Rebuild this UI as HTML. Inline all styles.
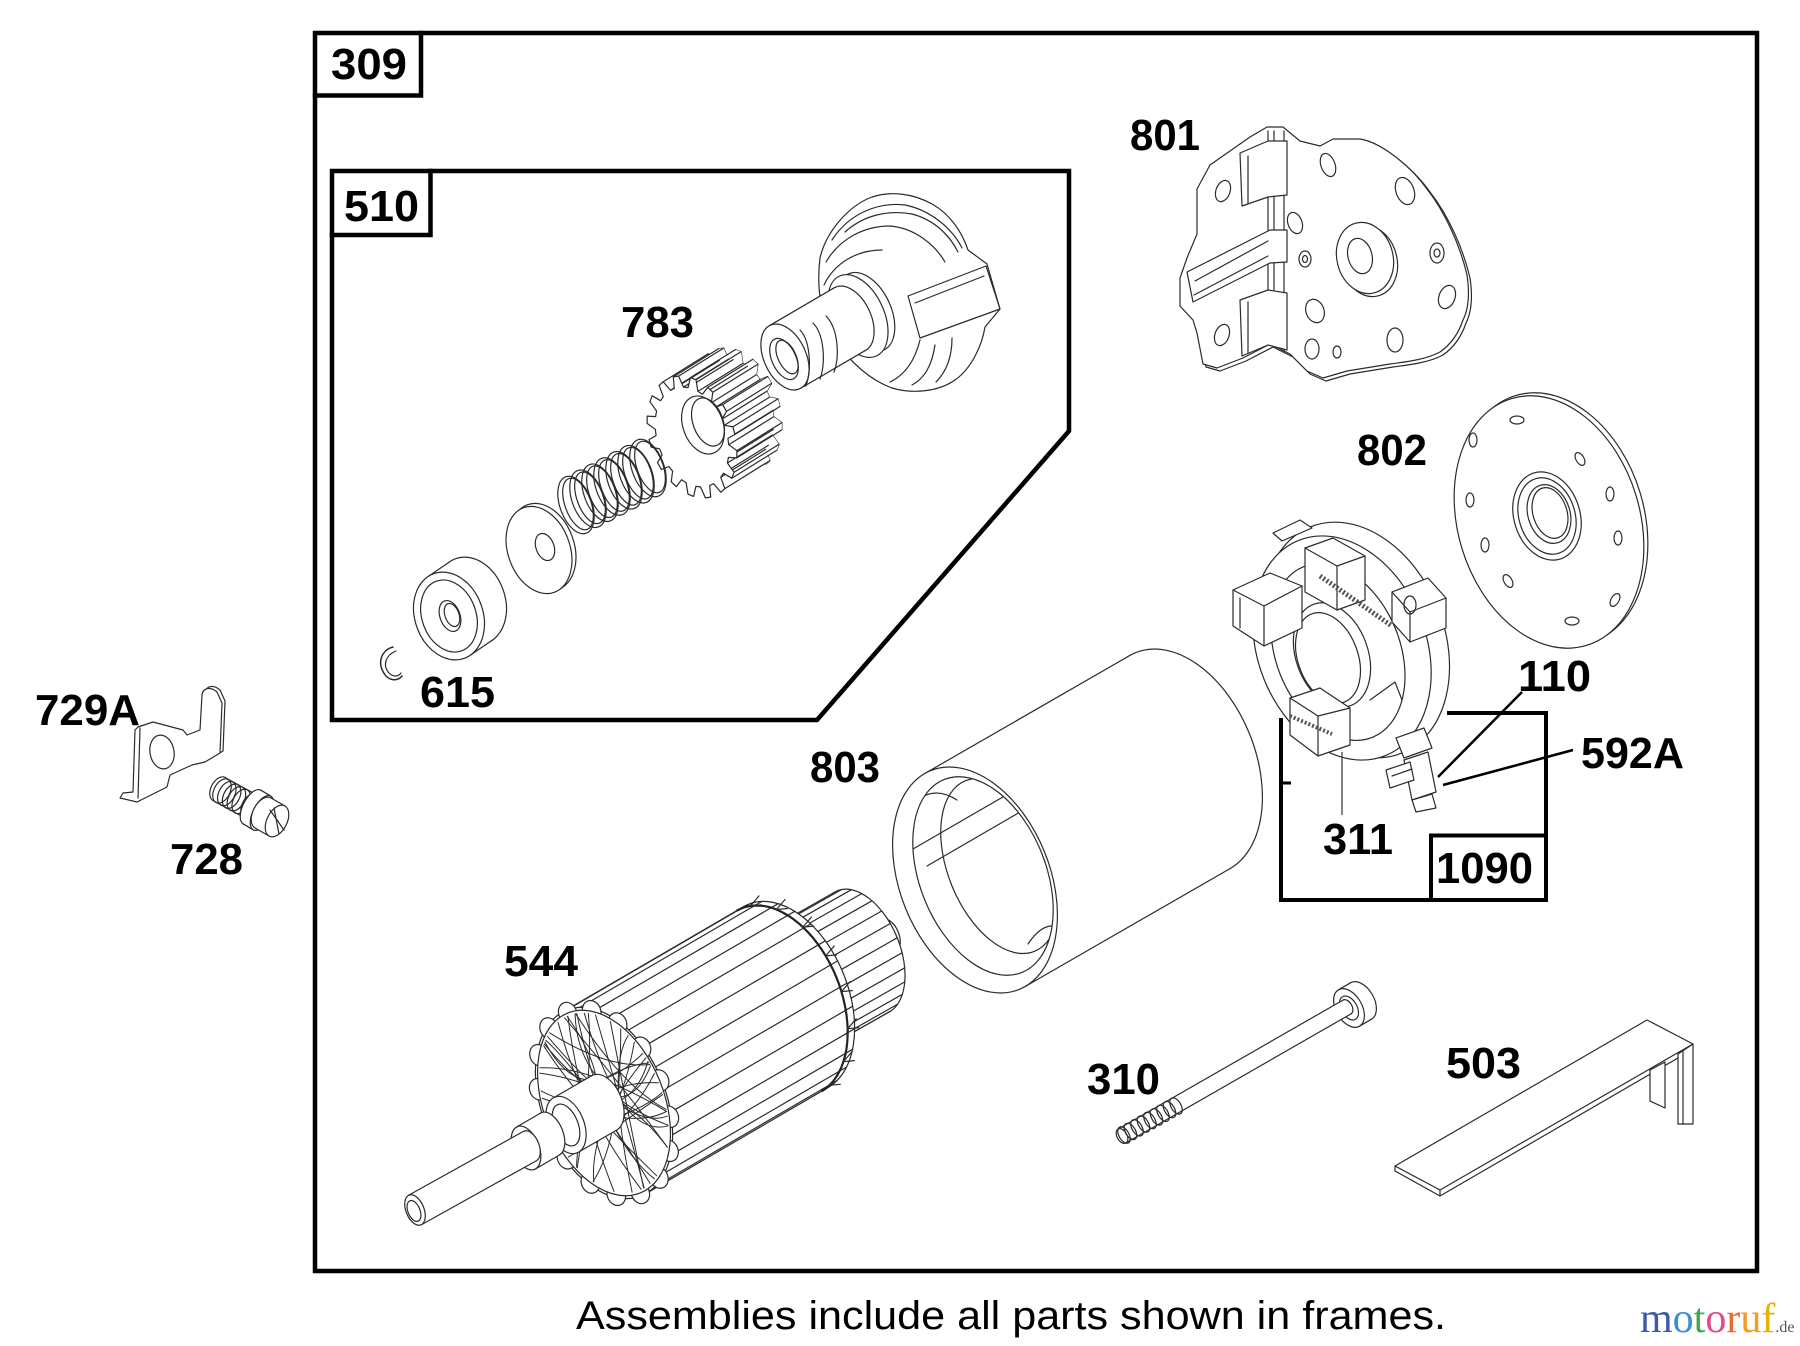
<!DOCTYPE html>
<html><head><meta charset="utf-8"><title>Starter motor parts diagram</title>
<style>
html,body{margin:0;padding:0;background:#fff;width:1800px;height:1346px;overflow:hidden}
svg{display:block}
.l{fill:none;stroke:#2b2b2b;stroke-width:1.2;stroke-linejoin:round;stroke-linecap:round}
.w{fill:#fff;stroke:#2b2b2b;stroke-width:1.2;stroke-linejoin:round}
.wf{fill:#fff;stroke:none}
.f{fill:none;stroke:#000;stroke-width:4.5;stroke-linejoin:miter;stroke-linecap:square}
.t{font-family:"Liberation Sans",Arial,sans-serif;font-weight:bold;font-size:44px;fill:#000}
</style></head><body>
<svg id="s" width="1800" height="1346" viewBox="0 0 1800 1346" xmlns="http://www.w3.org/2000/svg">
<defs>
<clipPath id="bore"><ellipse cx="983" cy="876" rx="63" ry="104" transform="rotate(-22 983 876)"/></clipPath>
</defs>

<!-- drive housing (510) -->
<g id="housing">
<path class="w" d="M820,258 C826,232 848,206 872,197 C890,191 912,193 932,204 C950,214 962,232 968,250 L987,264 L1000,309 L985,327 C982,345 972,368 955,380 C938,392 912,394 892,388 C870,380 850,362 835,340 C822,322 816,290 820,258 Z"/>
<path class="l" d="M832,240 C850,212 880,202 905,205 C930,210 952,228 962,248"/>
<path class="l" d="M845,232 C865,214 890,210 912,214 C935,220 950,236 958,252"/>
<path class="l" d="M826,262 C840,238 865,226 890,226 C915,228 935,245 945,262"/>
<path class="l" d="M824,285 C835,262 858,250 882,250"/>
<polyline class="l" points="908,296 986,266 1000,309 920,338 908,296"/>
<path class="l" d="M915,303 L984,276"/>
<path class="l" d="M920,340 C915,360 905,375 890,382"/>
<path class="l" d="M935,345 C932,365 925,378 912,385"/>
<path class="l" d="M952,338 C952,358 946,372 936,382"/>
<ellipse class="w" cx="866" cy="312" rx="25" ry="42" transform="rotate(-25 866 312)"/>
<ellipse class="w" cx="858" cy="316" rx="26" ry="44" transform="rotate(-25 858 316)"/>
</g>
<g id="tube"></g>
<g id="gear"></g>
<g id="spring"></g>
<g id="washer"></g>
<g id="collar"></g>
<path class="l" style="stroke-width:1.5" d="M393,647 C381,650 376,664 386,676 C391,681 398,681 402,676"/>
<path class="l" d="M396,651 C386,655 382,665 389,673 C393,677 398,677 401,673"/>

<!-- 801 plate -->
<g id="p801">
<path class="w" transform="translate(3,3)" d="M1197,189 L1210,165 L1250,137 L1267,127 L1283,127 L1300,141 L1320,146 L1333,139 L1360,139 C1380,142 1410,165 1427,189 C1445,212 1460,245 1467,275 C1470,295 1468,310 1463,320 C1458,335 1450,345 1440,352 C1425,360 1405,362 1390,364 L1347,371 L1323,378 L1307,371 L1290,354 L1270,344 L1243,358 L1217,368 L1203,364 L1197,333 L1193,320 L1180,306 L1180,278 L1187,258 L1197,234 Z"/>
<path class="w" d="M1197,189 L1210,165 L1250,137 L1267,127 L1283,127 L1300,141 L1320,146 L1333,139 L1360,139 C1380,142 1410,165 1427,189 C1445,212 1460,245 1467,275 C1470,295 1468,310 1463,320 C1458,335 1450,345 1440,352 C1425,360 1405,362 1390,364 L1347,371 L1323,378 L1307,371 L1290,354 L1270,344 L1243,358 L1217,368 L1203,364 L1197,333 L1193,320 L1180,306 L1180,278 L1187,258 L1197,234 Z"/>
<line class="l" x1="1268" y1="131" x2="1268" y2="344"/>
<line class="l" x1="1274" y1="131" x2="1274" y2="346"/>
<line class="l" x1="1284" y1="131" x2="1284" y2="352"/>
<polygon class="w" points="1240,153 1268,141 1287,141 1287,195 1268,197 1242,206"/>
<line class="l" x1="1248" y1="156" x2="1248" y2="203"/>
<polygon class="w" points="1187,272 1270,230 1287,230 1287,262 1270,263 1193,302"/>
<line class="l" x1="1195" y1="281" x2="1268" y2="241"/>
<line class="l" x1="1194" y1="295" x2="1268" y2="256"/>
<polygon class="w" points="1240,300 1268,290 1287,293 1287,350 1268,345 1242,356"/>
<line class="l" x1="1248" y1="302" x2="1248" y2="353"/>
<ellipse class="l" cx="1328" cy="165" rx="7" ry="12" transform="rotate(-20 1328 165)"/>
<ellipse class="l" cx="1405" cy="191" rx="9" ry="14" transform="rotate(-20 1405 191)"/>
<ellipse class="l" cx="1223" cy="191" rx="7" ry="11" transform="rotate(20 1223 191)"/>
<ellipse class="l" cx="1295" cy="223" rx="7" ry="11" transform="rotate(-20 1295 223)"/>
<ellipse class="l" cx="1305" cy="259" rx="6" ry="8"/>
<ellipse class="l" cx="1305" cy="259" rx="2.5" ry="3.5"/>
<ellipse class="l" cx="1437" cy="253" rx="7" ry="10"/>
<ellipse class="l" cx="1437" cy="253" rx="3" ry="4"/>
<ellipse class="l" cx="1447" cy="297" rx="8" ry="12" transform="rotate(20 1447 297)"/>
<ellipse class="l" cx="1315" cy="311" rx="9" ry="12" transform="rotate(-20 1315 311)"/>
<ellipse class="l" cx="1222" cy="335" rx="7" ry="11" transform="rotate(20 1222 335)"/>
<ellipse class="l" cx="1312" cy="349" rx="7" ry="10"/>
<ellipse class="l" cx="1337" cy="352" rx="4" ry="6"/>
<ellipse class="l" cx="1395" cy="340" rx="8" ry="12"/>
<ellipse class="w" cx="1369" cy="261" rx="28" ry="36" transform="rotate(-15 1369 261)"/>
<ellipse class="w" cx="1365" cy="258" rx="28" ry="36" transform="rotate(-15 1365 258)"/>
<ellipse class="l" cx="1360" cy="256" rx="12" ry="18" transform="rotate(-15 1360 256)"/>
</g>

<!-- 802 disk -->
<g id="p802">
<ellipse class="w" cx="1553" cy="519" rx="91" ry="129" transform="rotate(-17 1553 519)"/>
<ellipse class="w" cx="1549" cy="522" rx="91" ry="129" transform="rotate(-17 1549 522)"/>
<ellipse class="w" cx="1547" cy="516" rx="33" ry="45" transform="rotate(-17 1547 516)"/>
<ellipse class="l" cx="1547" cy="516" rx="28" ry="39" transform="rotate(-17 1547 516)"/>
<ellipse class="l" cx="1549" cy="514" rx="21" ry="30" transform="rotate(-17 1549 514)"/>
<ellipse class="l" cx="1550" cy="513" rx="17" ry="26" transform="rotate(-17 1550 513)"/>
<ellipse class="l" cx="1517" cy="420" rx="7" ry="4"/>
<ellipse class="l" cx="1473" cy="440" rx="4" ry="7"/>
<ellipse class="l" cx="1580" cy="459" rx="4" ry="7" transform="rotate(-30 1580 459)"/>
<ellipse class="l" cx="1610" cy="494" rx="4" ry="7"/>
<ellipse class="l" cx="1470" cy="500" rx="4" ry="7"/>
<ellipse class="l" cx="1618" cy="538" rx="4" ry="7"/>
<ellipse class="l" cx="1485" cy="545" rx="4" ry="7"/>
<ellipse class="l" cx="1508" cy="581" rx="4" ry="7" transform="rotate(-30 1508 581)"/>
<ellipse class="l" cx="1615" cy="600" rx="4" ry="7" transform="rotate(30 1615 600)"/>
<ellipse class="l" cx="1572" cy="621" rx="7" ry="4"/>
</g>

<g id="p803"></g>
<g clip-path="url(#bore)">
<path class="l" d="M913,849 L1060,764"/>
<path class="l" d="M927,866 L1070,783"/>
<ellipse class="l" cx="1000" cy="866" rx="52" ry="92" transform="rotate(-22 1000 866)"/>
<path class="l" d="M918,800 Q935,786 957,800"/>
<path class="l" d="M1028,944 Q1040,926 1052,926"/>
</g>

<!-- brush holder -->
<g id="brush">
<ellipse class="w" cx="1356" cy="640" rx="88" ry="122" transform="rotate(-22 1356 640)"/>
<ellipse class="w" cx="1342" cy="648" rx="84" ry="116" transform="rotate(-22 1342 648)"/>
<ellipse class="l" cx="1338" cy="652" rx="62" ry="92" transform="rotate(-22 1338 652)"/>
<ellipse class="w" cx="1332" cy="655" rx="36" ry="54" transform="rotate(-20 1332 655)"/>
<ellipse class="l" cx="1328" cy="658" rx="30" ry="47" transform="rotate(-20 1328 658)"/>
<polygon class="w" points="1273,533 1300,520 1312,528 1282,541"/>
<polygon class="w" points="1233,590 1270,573 1302,586 1302,628 1264,646 1233,626"/>
<polyline class="l" points="1233,590 1264,606 1302,586"/><line class="l" x1="1264" y1="606" x2="1264" y2="646"/>
<line class="l" x1="1240" y1="598" x2="1240" y2="628"/>
<polygon class="w" points="1305,548 1333,538 1365,556 1365,600 1337,610 1305,592"/>
<polyline class="l" points="1305,548 1337,566 1365,556"/><line class="l" x1="1337" y1="566" x2="1337" y2="610"/>
<polygon class="w" points="1392,592 1428,578 1446,598 1446,628 1410,642 1392,622"/>
<polyline class="l" points="1392,592 1410,612 1446,598"/><line class="l" x1="1410" y1="612" x2="1410" y2="642"/>
<ellipse class="l" cx="1410" cy="605" rx="6" ry="9"/>
<polygon class="w" points="1290,698 1320,688 1350,708 1350,745 1318,756 1290,735"/>
<polyline class="l" points="1290,698 1318,716 1350,708"/><line class="l" x1="1318" y1="716" x2="1318" y2="756"/>
<path d="M1320,576 L1392,626" stroke="#555" stroke-width="5" stroke-dasharray="2 2" fill="none"/>
<path d="M1290,716 L1332,734" stroke="#555" stroke-width="4" stroke-dasharray="2 2" fill="none"/>
<path d="M1370,700 L1395,682 L1402,700" class="l"/>
<polygon class="w" points="1396,738 1424,728 1432,748 1404,758"/>
<polygon class="w" points="1404,760 1428,752 1436,792 1412,800"/>
<polygon class="w" points="1386,770 1410,762 1414,780 1390,788"/>
<line class="l" x1="1392" y1="776" x2="1412" y2="769"/>
<polygon class="w" points="1412,800 1432,794 1436,808 1416,812"/>
</g>

<g id="arm"></g>
<g id="bolt"></g>

<!-- 503 bracket -->
<g id="p503">
<polygon class="w" points="1395,1166 1647,1020 1693,1044 1440,1190"/>
<polyline class="l" points="1395,1166 1395,1171 1440,1196 1440,1190"/>
<line class="l" x1="1440" y1="1196" x2="1678" y2="1058"/>
<polygon class="w" points="1678,1054 1693,1044 1693,1124 1678,1124"/>
<line class="l" x1="1683" y1="1051" x2="1683" y2="1124"/>
<polygon class="w" points="1650,1070 1665,1062 1665,1108 1650,1101"/>
</g>

<!-- 729A -->
<g id="p729">
<path class="w" transform="translate(3,-2)" d="M202,695 C203,688 210,686 217,692 L222,703 L220,753 L205,762"/>
<path class="w" d="M138,727 L153,722 L183,730 L187,735 L200,730 L202,695 C203,688 210,686 217,692 L222,703 L220,753 L205,762 L192,765 L170,775 L167,787 L137,802 L120,798 L123,793 L133,792 L135,730 Z"/>
<line class="l" x1="140" y1="728" x2="138" y2="798"/>
<ellipse class="l" cx="162" cy="752" rx="12" ry="17" transform="rotate(-10 162 752)"/>
</g>
<g id="p728"></g>

<!-- frames -->
<rect class="f" x="315" y="33" width="1442" height="1238"/>
<path class="f" d="M315,95.5 L421,95.5 L421,33"/>
<path class="f" d="M332,171 L1069,171 L1069,431 L817,720 L332,720 Z"/>
<path class="f" d="M332,235 L430.5,235 L430.5,171"/>
<path class="f" style="stroke-width:4" d="M1449,713 L1546,713 L1546,900 L1281,900 L1281,720"/>
<path class="f" style="stroke-width:4" d="M1431,900 L1431,835.5 L1546,835.5"/>
<line x1="1281" y1="783" x2="1291" y2="783" stroke="#000" stroke-width="3"/>

<!-- leaders -->
<line x1="1522" y1="692" x2="1438" y2="777" stroke="#000" stroke-width="2.5"/>
<line x1="1573" y1="750" x2="1443" y2="785" stroke="#000" stroke-width="2.5"/>
<line x1="1342" y1="752" x2="1342" y2="815" stroke="#333" stroke-width="1.2"/>

<!-- labels -->
<text class="t" x="331" y="79" textLength="76" lengthAdjust="spacingAndGlyphs">309</text>
<text class="t" x="344" y="221" textLength="75" lengthAdjust="spacingAndGlyphs">510</text>
<text class="t" x="1130" y="150" textLength="70" lengthAdjust="spacingAndGlyphs">801</text>
<text class="t" x="621" y="337" textLength="73" lengthAdjust="spacingAndGlyphs">783</text>
<text class="t" x="420" y="707" textLength="75" lengthAdjust="spacingAndGlyphs">615</text>
<text class="t" x="35" y="725" textLength="105" lengthAdjust="spacingAndGlyphs">729A</text>
<text class="t" x="170" y="874" textLength="73" lengthAdjust="spacingAndGlyphs">728</text>
<text class="t" x="504" y="976" textLength="74" lengthAdjust="spacingAndGlyphs">544</text>
<text class="t" x="810" y="782" textLength="70" lengthAdjust="spacingAndGlyphs">803</text>
<text class="t" x="1357" y="465" textLength="70" lengthAdjust="spacingAndGlyphs">802</text>
<text class="t" x="1518" y="691" textLength="73" lengthAdjust="spacingAndGlyphs">110</text>
<text class="t" x="1581" y="768" textLength="103" lengthAdjust="spacingAndGlyphs">592A</text>
<text class="t" x="1323" y="854" textLength="70" lengthAdjust="spacingAndGlyphs">311</text>
<text class="t" x="1436" y="883" textLength="97" lengthAdjust="spacingAndGlyphs">1090</text>
<text class="t" x="1087" y="1094" textLength="73" lengthAdjust="spacingAndGlyphs">310</text>
<text class="t" x="1446" y="1078" textLength="75" lengthAdjust="spacingAndGlyphs">503</text>

<text x="576" y="1329" font-family="Liberation Sans, Arial, sans-serif" font-size="40" fill="#000" textLength="870" lengthAdjust="spacingAndGlyphs">Assemblies include all parts shown in frames.</text>

<text x="1640" y="1332" font-family="Liberation Serif, serif" font-size="42"><tspan fill="#3c5aa6">m</tspan><tspan fill="#3a8ed3">o</tspan><tspan fill="#3fa94b">t</tspan><tspan fill="#e24a8b">o</tspan><tspan fill="#ef6b2a">r</tspan><tspan fill="#f39c1f">u</tspan><tspan fill="#e8b000">f</tspan><tspan font-size="16" fill="#555">.de</tspan></text>
</svg>
<script>
(function(){
var NS="http://www.w3.org/2000/svg";
function el(p,tag,a){var e=document.createElementNS(NS,tag);for(var k in a)e.setAttribute(k,a[k]);p.appendChild(e);return e;}
function rotp(x,y,deg){var r=deg*Math.PI/180,c=Math.cos(r),s=Math.sin(r);return [x*c-y*s,x*s+y*c];}
function ept(c,rx,ry,rot,t){var p=rotp(rx*Math.cos(t),ry*Math.sin(t),rot);return [c[0]+p[0],c[1]+p[1]];}
function nrm(rx,ry,rot,t){return rotp(Math.cos(t)/rx,Math.sin(t)/ry,rot);}
function f1(v){return v.toFixed(1);}
function ell(g,c,rx,ry,rot,cls){return el(g,'ellipse',{cx:f1(c[0]),cy:f1(c[1]),rx:rx,ry:ry,transform:'rotate('+rot+' '+f1(c[0])+' '+f1(c[1])+')','class':cls||'w'});}
function ln(g,a,b,cls){return el(g,'line',{x1:f1(a[0]),y1:f1(a[1]),x2:f1(b[0]),y2:f1(b[1]),'class':cls||'l'});}
function pl(g,pts,cls,tag){return el(g,tag||'polygon',{points:pts.map(function(p){return f1(p[0])+','+f1(p[1]);}).join(' '),'class':cls||'w'});}
function lerp(a,b,f){return [a[0]+(b[0]-a[0])*f,a[1]+(b[1]-a[1])*f];}
function cyl(g,c1,c2,rx,ry,rot,n,off){
 var d=[c2[0]-c1[0],c2[1]-c1[1]];
 ell(g,c2,rx,ry,rot,'w');
 var dl=rotp(d[0],d[1],-rot);
 var t0=Math.atan2(-ry*dl[0],rx*dl[1]);
 var a1=ept(c1,rx,ry,rot,t0),a2=ept(c1,rx,ry,rot,t0+Math.PI);
 var b1=[a1[0]+d[0],a1[1]+d[1]],b2=[a2[0]+d[0],a2[1]+d[1]];
 pl(g,[a1,b1,b2,a2],'wf');
 ln(g,a1,b1);ln(g,a2,b2);
 for(var i=0;i<(n||0);i++){var t=i*2*Math.PI/n+(off||0);var q=nrm(rx,ry,rot,t);
   if(q[0]*d[0]+q[1]*d[1]>1e-6){var p=ept(c1,rx,ry,rot,t);ln(g,p,[p[0]+d[0],p[1]+d[1]]);}}
 ell(g,c1,rx,ry,rot,'w');
 return t0;
}
function G(id){return document.getElementById(id);}

var tb=G('tube');
cyl(tb,[785,357],[850,319],21,35,-25,0);
el(tb,'path',{d:'M800,330 C810,340 812,368 806,386','class':'l'});
el(tb,'path',{d:'M813,323 C824,334 826,362 820,379','class':'l'});
el(tb,'path',{d:'M826,316 C838,328 840,356 834,372','class':'l'});
ell(tb,[784,359],12,22,-25,'w');
ell(tb,[787,357],9,18,-25,'l');

var gg=G('gear');
function gearPts(c,rx,ry,rot,n,ri){var pts=[],st=2*Math.PI/n;for(var k=0;k<n;k++){var a=k*st;[[0,ri],[0.18,1],[0.5,1],[0.68,ri]].forEach(function(fr){pts.push(ept(c,rx*fr[1],ry*fr[1],rot,a+fr[0]*st));});}return pts;}
var gc=[692,437],gd=[45,-28];
var pF=gearPts(gc,42,63,-20,16,0.82),pB=pF.map(function(p){return [p[0]+gd[0],p[1]+gd[1]];});
pl(gg,pB,'w');
for(var i=0;i<pF.length;i++){var j=(i+1)%pF.length;pl(gg,[pF[i],pF[j],pB[j],pB[i]],'wf');}
for(var i=0;i<pF.length;i++){var v=(pF[i][0]-gc[0])*gd[0]+(pF[i][1]-gc[1])*gd[1];if(v>0)ln(gg,pF[i],pB[i]);}
pl(gg,pF,'w');
ell(gg,[703,425],20,30,-20,'w');
ell(gg,[708,422],15,25,-20,'l');

var sg=G('spring');
for(var i=0;i<=6;i++){var c=lerp([576,505],[648,468],i/6);ell(sg,c,16,30,-20,'l');ell(sg,[c[0]+2,c[1]-1],13,27,-20,'l');}

var wg=G('washer');
cyl(wg,[539,550],[543,547],31,45,-20,0);
ell(wg,[545,547],9,14,-20,'l');

var cg=G('collar');
cyl(cg,[449,616],[471,601],34,45,-20,0);
ell(cg,[449,616],27,37,-20,'l');
ell(cg,[450,616],10,16,-20,'l');
ell(cg,[452,615],7,12,-20,'l');

var fg=G('p803');
cyl(fg,[975,880],[1180,762],75,118,-22,0);
ell(fg,[983,876],63,104,-22,'l');

var ag=G('arm');
cyl(ag,[860,952],[888,936],11,18,-22,0);
cyl(ag,[795,990],[862,952],38,66,-22,26);
var C1=[604,1103],C2=[786,997],dA=[C2[0]-C1[0],C2[1]-C1[1]];
var dLen=Math.hypot(dA[0],dA[1]),u=[dA[0]/dLen,dA[1]/dLen];
var t0=cyl(ag,C1,C2,62,100,-22,26,0.1);
var mid=nrm(62,100,-22,t0+Math.PI/2);var ts=(mid[0]*dA[0]+mid[1]*dA[1]>0)?t0:t0+Math.PI;
var bc=[C2[0]-8*u[0],C2[1]-8*u[1]],band=[];
for(var i=0;i<=40;i++){band.push(ept(bc,62,100,-22,ts+i*Math.PI/40));}
el(ag,'polyline',{points:band.map(function(p){return f1(p[0])+','+f1(p[1]);}).join(' '),fill:'none',stroke:'#222','stroke-width':2.2});
for(var i=3;i<40;i+=5){var p=band[i];ln(ag,p,[p[0]+8*u[0]+4,p[1]+8*u[1]+3]);ln(ag,p,[p[0]+10*u[0],p[1]+10*u[1]-5]);}
for(var k=0;k<16;k++){var p=ept(C1,60,97,-22,k*2*Math.PI/16);ell(ag,p,9,11,-22,'w');}
ell(ag,C1,60,97,-22,'w');
var seed=7;function rnd(){seed=(seed*9301+49297)%233280;return seed/233280;}
for(var i=0;i<30;i++){var a1=rnd()*2*Math.PI,a2=a1+Math.PI*(0.5+rnd());var p1=ept(C1,58,94,-22,a1),p2=ept(C1,58,94,-22,a2),q=ept(C1,24,40,-22,rnd()*6.28);
 el(ag,'path',{d:'M'+f1(p1[0])+','+f1(p1[1])+' Q'+f1(q[0])+','+f1(q[1])+' '+f1(p2[0])+','+f1(p2[1]),'class':'l','style':'stroke-width:1'});}
cyl(ag,[566,1125],[604,1103],18,30,-22,0);
ell(ag,[566,1125],12,22,-22,'l');
cyl(ag,[526,1148],[550,1134],13,23,-22,0);
cyl(ag,[415,1210],[530,1146],9,16,-22,0);
ell(ag,[414,1211],6,11,-22,'l');

var bg=G('bolt');
cyl(bg,[1349,1008],[1361,1001],13,21,-30,0);
ell(bg,[1349,1008],8,13,-30,'l');
cyl(bg,[1122,1136],[1347,1007],5,8,-30,0);
for(var i=0;i<=8;i++){var c=lerp([1124,1135],[1176,1106],i/8);ell(bg,c,5,9,-30,'l');}

var sc=G('p728');
cyl(sc,[250,806],[219,789],8,13,27,0);
for(var i=0;i<5;i++){var c=lerp([222,791],[246,804],i/5);ell(sc,c,8,13,27,'l');}
cyl(sc,[262,813],[252,807],9,19,27,0);
cyl(sc,[277,821],[263,813],10,17,27,0);
ln(sc,[270,810],[284,830]);ln(sc,[274,808],[279,834]);
})();
</script>
</body></html>
